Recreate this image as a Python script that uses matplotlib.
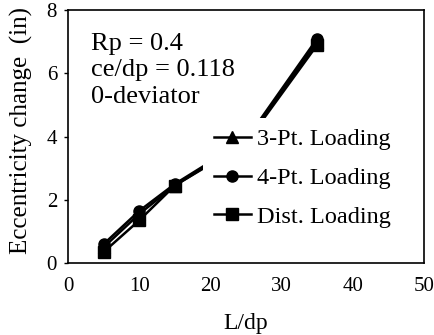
import matplotlib
matplotlib.use("Agg")
import matplotlib.pyplot as plt

plt.rcParams['font.family'] = ['Liberation Serif', 'DejaVu Serif']

x_vals = [5, 10, 15, 25, 35]
pt3 = [0.5, 1.55, 2.45, 3.85, 7.0]
pt4 = [0.6, 1.65, 2.5, 3.9, 7.1]
dist = [0.35, 1.35, 2.45, 3.8, 6.9]
labels = ['3-Pt. Loading', '4-Pt. Loading', 'Dist. Loading']
xticks = [0, 10, 20, 30, 40, 50]
yticks = [0, 2, 4, 6, 8]

fig = plt.figure(figsize=(4.34, 3.35), dpi=100)
ax = fig.add_axes([0.157, 0.215, 0.82, 0.755])

ax.plot(x_vals, pt3, color='black', lw=1.8, marker='^', ms=8, label=labels[0])
ax.plot(x_vals, pt4, color='black', lw=1.8, marker='o', ms=8, label=labels[1])
ax.plot(x_vals, dist, color='black', lw=1.8, marker='s', ms=8, label=labels[2])

ax.set_xlim(0, 50)
ax.set_ylim(0, 8)
ax.set_xticks(xticks)
ax.set_yticks(yticks)
ax.tick_params(axis='x', length=0, labelsize=15, pad=10)
ax.tick_params(axis='y', length=3, width=1, labelsize=15, pad=5)
for s in ax.spines.values():
    s.set_linewidth(1.2)

ax.set_xlabel('L/dp', fontsize=17, labelpad=12)
ax.set_ylabel('Eccentricity change  (in)', fontsize=18, labelpad=10)
ax.yaxis.label.set_y(0.525)

ax.text(0.065, 0.91, 'Rp = 0.4\nce/dp = 0.118\n0-deviator', transform=ax.transAxes,
        fontsize=19, va='top', ha='left', linespacing=1.27)

leg = ax.legend(loc='upper left', bbox_to_anchor=(0.378, 0.575), fontsize=17.5,
                frameon=True, framealpha=1, edgecolor='none', fancybox=False,
                handlelength=1.55, labelspacing=0.68, handletextpad=0.25, borderpad=0.45,
                borderaxespad=0)
leg.set_zorder(5)

fig.savefig('out.png', dpi=100)
